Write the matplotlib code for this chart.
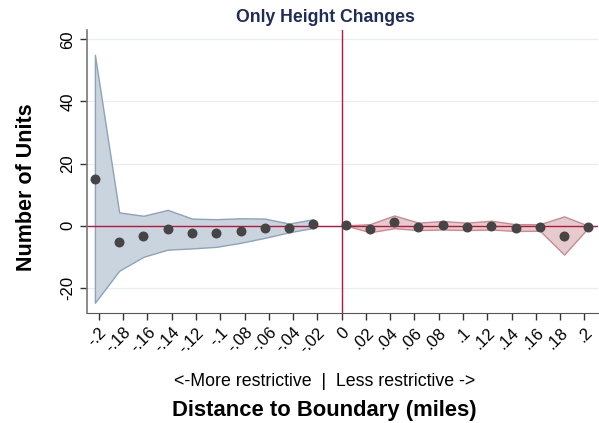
import matplotlib
matplotlib.use("Agg")
import matplotlib.pyplot as plt

plt.rcParams['font.family'] = ['Liberation Sans', 'DejaVu Sans']

# bin positions (miles) as plotted, and estimates
dist_left = [-0.2033, -0.1833, -0.1633, -0.1433, -0.1233, -0.1033, -0.0833, -0.0633, -0.0433, -0.0233]
est_left = [15.0, -5.1, -3.4, -1.2, -2.3, -2.2, -1.6, -0.8, -0.6, 0.6]
hi_left = [55.0, 4.3, 3.2, 5.1, 2.3, 2.1, 2.4, 2.3, 0.7, 2.1]
lo_left = [-24.8, -14.5, -10.0, -7.7, -7.3, -6.8, -5.5, -3.9, -2.1, -0.7]

dist_right = [0.0033, 0.0233, 0.0433, 0.0633, 0.0833, 0.1033, 0.1233, 0.1433, 0.1633, 0.1833, 0.2033]
est_right = [0.1, -0.9, 1.3, -0.3, 0.2, -0.3, 0.0, -0.7, -0.5, -3.2, -0.4]
hi_right = [0.1, 0.5, 3.3, 1.0, 1.5, 1.0, 1.6, 0.5, 0.5, 3.0, 0.0]
lo_right = [0.1, -2.1, -0.8, -1.4, -1.2, -1.4, -1.2, -1.7, -1.6, -9.3, -0.6]

xticks = [-0.2, -0.18, -0.16, -0.14, -0.12, -0.1, -0.08, -0.06, -0.04, -0.02, 0,
          0.02, 0.04, 0.06, 0.08, 0.1, 0.12, 0.14, 0.16, 0.18, 0.2]
xticklabels = ['-.2', '-.18', '-.16', '-.14', '-.12', '-.1', '-.08', '-.06', '-.04', '-.02', '0',
               '.02', '.04', '.06', '.08', '.1', '.12', '.14', '.16', '.18', '.2']
yticks = [-20, 0, 20, 40, 60]

fig = plt.figure(figsize=(5.99, 4.23), dpi=100)
ax = fig.add_axes([0.1457, 0.26, 0.8526, 0.669])

for y in yticks:
    ax.axhline(y, color='#e6eef0', linewidth=0.9, zorder=0)

ax.fill_between(dist_left, lo_left, hi_left, facecolor='#c9d4de', edgecolor='#8ca3ba',
                linewidth=1.0, zorder=1)
ax.fill_between(dist_right, lo_right, hi_right, facecolor='#e5cbce', edgecolor='#c98a92',
                linewidth=1.0, zorder=1)

ax.axhline(0, color='#b5173f', linewidth=1.0, zorder=2)
ax.axvline(0, color='#b5173f', linewidth=1.0, zorder=2)

ax.scatter(dist_left, est_left, s=38, color='#454545', zorder=3)
ax.scatter(dist_right, est_right, s=38, color='#454545', zorder=3)

ax.set_xlim(-0.2096, 0.2112)
ax.set_ylim(-28.1, 63.0)
ax.set_xticks(xticks)
ax.set_xticklabels(xticklabels, rotation=45, ha='right', rotation_mode='anchor', fontsize=12)
ax.set_yticks(yticks)
ax.set_yticklabels([str(v) for v in yticks], rotation=90, va='center', fontsize=12)
ax.tick_params(axis='both', length=5, width=1, color='#333333')

ax.spines['top'].set_visible(False)
ax.spines['right'].set_visible(False)
ax.spines['left'].set_color('#777777')
ax.spines['left'].set_linewidth(1.2)
ax.spines['bottom'].set_color('#555555')

fig.text(0.544, 0.958, 'Only Height Changes', ha='center', va='center', fontsize=12.7,
         fontweight='bold', color='#1f2d57')
ax.set_ylabel('Number of Units', fontsize=15.5, fontweight='bold')
ax.yaxis.set_label_coords(-0.098, 0.445)
fig.text(0.542, 0.097, '<-More restrictive  |  Less restrictive ->', ha='center', va='center',
         fontsize=12.8)
fig.text(0.542, 0.030, 'Distance to Boundary (miles)', ha='center', va='center',
         fontsize=15.8, fontweight='bold')

fig.savefig('out.png', dpi=100)
